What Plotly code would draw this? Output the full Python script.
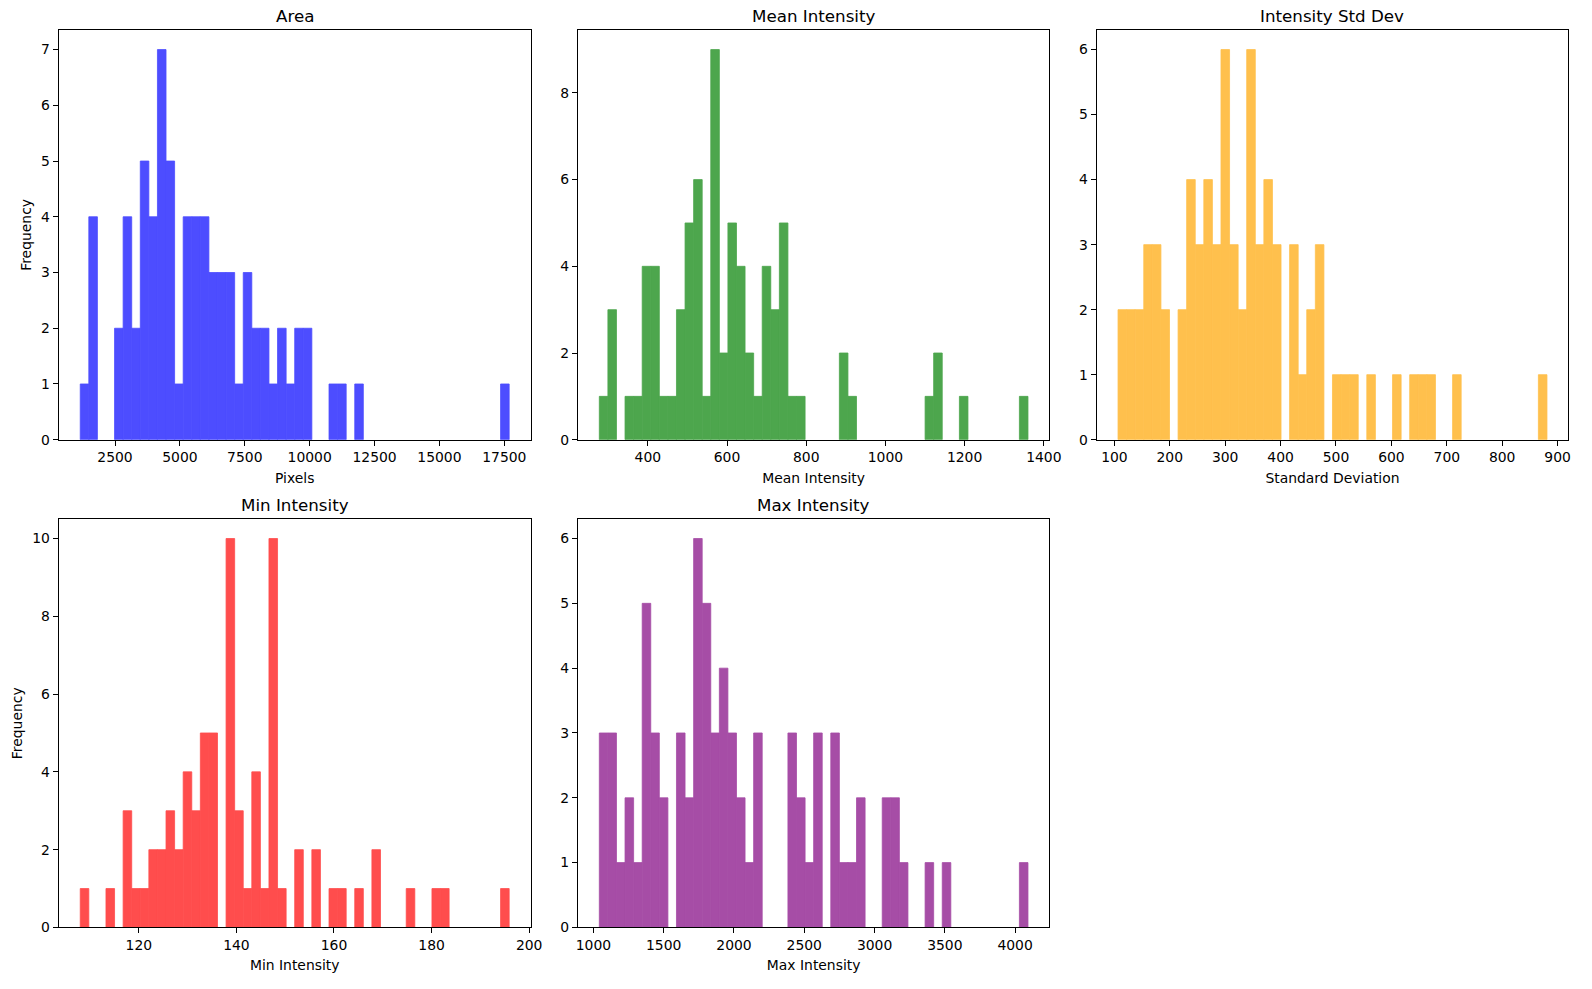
import plotly.graph_objects as go

# ---------------- data (histogram counts, 50 equal bins each) ----------------
area_range = [1160, 17687]
area_counts = [1, 4, 0, 0, 2, 4, 2, 5, 4, 7, 5, 1, 4, 4, 4, 3, 3, 3, 1, 3, 2, 2, 1, 2, 1,
               2, 2, 0, 0, 1, 1, 0, 1, 0, 0, 0, 0, 0, 0, 0, 0, 0, 0, 0, 0, 0, 0, 0, 0, 1]

mean_range = [277.5, 1360]
mean_counts = [1, 3, 0, 1, 1, 4, 4, 1, 1, 3, 5, 6, 1, 9, 2, 5, 4, 2, 1, 4, 3, 5, 1, 1, 0,
               0, 0, 0, 2, 1, 0, 0, 0, 0, 0, 0, 0, 0, 1, 2, 0, 0, 1, 0, 0, 0, 0, 0, 0, 1]

std_range = [106.6, 880.8]
std_counts = [2, 2, 2, 3, 3, 2, 0, 2, 4, 3, 4, 3, 6, 3, 2, 6, 3, 4, 3, 0, 3, 1, 2, 3, 0,
              1, 1, 1, 0, 1, 0, 0, 1, 0, 1, 1, 1, 0, 0, 1, 0, 0, 0, 0, 0, 0, 0, 0, 0, 1]

min_range = [108.0, 195.9]
min_counts = [1, 0, 0, 1, 0, 3, 1, 1, 2, 2, 3, 2, 4, 3, 5, 5, 0, 10, 3, 1, 4, 1, 10, 1, 0,
              2, 0, 2, 0, 1, 1, 0, 1, 0, 2, 0, 0, 0, 1, 0, 0, 1, 1, 0, 0, 0, 0, 0, 0, 1]

max_range = [1042, 4091.5]
max_counts = [3, 3, 1, 2, 1, 5, 3, 2, 0, 3, 2, 6, 5, 3, 4, 3, 2, 1, 3, 0, 0, 0, 3, 2, 1,
              3, 0, 3, 1, 1, 2, 0, 0, 2, 2, 1, 0, 0, 1, 0, 1, 0, 0, 0, 0, 0, 0, 0, 0, 1]

titles = ["Area", "Mean Intensity", "Intensity Std Dev", "Min Intensity", "Max Intensity"]
xlabels = ["Pixels", "Mean Intensity", "Standard Deviation", "Min Intensity", "Max Intensity"]
# blue / green / orange / red / purple at 70% opacity over white
colors = ["#4d4dff", "#4da64d", "#ffc04d", "#ff4d4d", "#a64da6"]
x_dticks = [2500, 200, 100, 20, 500]
y_dticks = [1, 2, 1, 2, 1]

panels = [(area_range, area_counts), (mean_range, mean_counts), (std_range, std_counts),
          (min_range, min_counts), (max_range, max_counts)]

# ---------------- layout geometry ----------------
W, H = 1592, 989
col_px = [(57.3, 533.3), (581.0, 1056.7), (1104.3, 1580.3)]
row_px = [(30.3, 443.3), (523.3, 935.0)]
positions = [(0, 0), (0, 1), (0, 2), (1, 0), (1, 1)]

FONT = "DejaVu Sans"
fig = go.Figure()
annotations = []

for i, ((rng, counts), (r, c)) in enumerate(zip(panels, positions)):
    n = len(counts)
    bw = (rng[1] - rng[0]) / n
    centers = [rng[0] + bw * (k + 0.5) for k in range(n)]
    ax = "" if i == 0 else str(i + 1)
    line_w = [0.8 if v > 0 else 0 for v in counts]
    fig.add_trace(go.Bar(
        x=centers, y=counts, width=[bw] * n,
        marker=dict(color=colors[i], line=dict(width=line_w, color=colors[i])),
        xaxis="x" + ax, yaxis="y" + ax, showlegend=False,
        hovertemplate="%{x}: %{y}<extra></extra>",
    ))
    span = rng[1] - rng[0]
    xr = [rng[0] - 0.05 * span, rng[1] + 0.05 * span]
    ymax = max(counts) * 1.05
    x0, x1 = col_px[c]
    y0, y1 = row_px[r]
    dom_x = [x0 / W, x1 / W]
    dom_y = [1 - y1 / H, 1 - y0 / H]
    common = dict(showline=True, linecolor="black", linewidth=1.1, mirror=True,
                  showgrid=False, zeroline=False, ticks="outside", ticklen=5,
                  tickwidth=1.1, tickcolor="black",
                  tickfont=dict(family=FONT, size=13.9, color="black"))
    xa = dict(common, domain=dom_x, range=xr, anchor="y" + ax, tick0=0,
              dtick=x_dticks[i], tickformat="d",
              title=dict(text=xlabels[i], font=dict(family=FONT, size=13.9, color="black"),
                         standoff=8))
    ya = dict(common, domain=dom_y, range=[0, ymax], anchor="x" + ax, tick0=0,
              dtick=y_dticks[i], tickformat="d")
    if c == 0:
        ya["title"] = dict(text="Frequency", font=dict(family=FONT, size=13.9, color="black"),
                           standoff=6)
    fig.update_layout(**{"xaxis" + ax: xa, "yaxis" + ax: ya})
    annotations.append(dict(
        text=titles[i], xref="paper", yref="paper",
        x=(dom_x[0] + dom_x[1]) / 2, y=dom_y[1], yshift=2,
        xanchor="center", yanchor="bottom", showarrow=False,
        font=dict(family=FONT, size=16.7, color="black"),
    ))

fig.update_layout(
    width=W, height=H,
    margin=dict(l=0, r=0, t=0, b=0),
    paper_bgcolor="white", plot_bgcolor="white",
    annotations=annotations,
    font=dict(family=FONT, color="black"),
)

fig.write_html("out.html")
